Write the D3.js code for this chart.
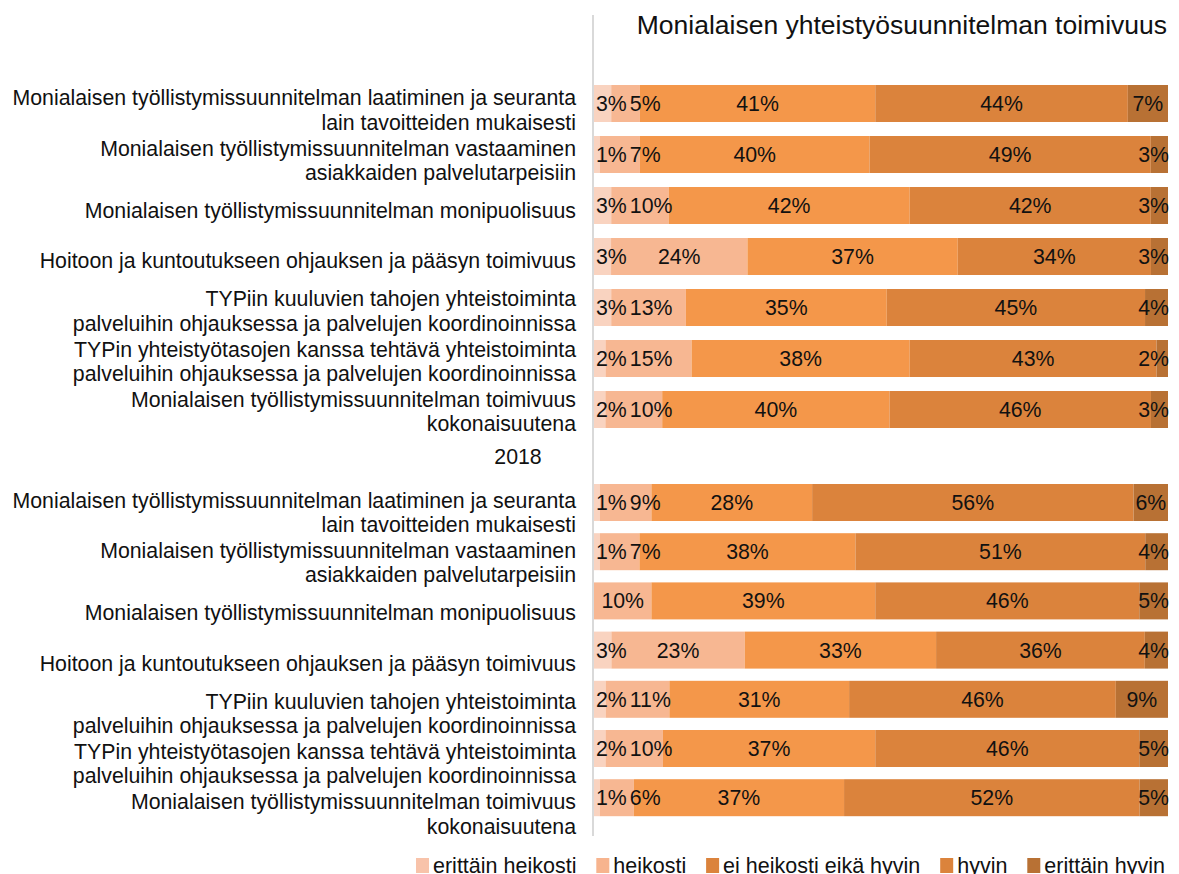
<!DOCTYPE html>
<html>
<head>
<meta charset="utf-8">
<script src="https://cdn.jsdelivr.net/npm/d3@7"></script>
<style>
  body { margin: 0; background: #fff; }
  text { font-family: "Liberation Sans", Arial, sans-serif; }
</style>
</head>
<body>
<svg id="chart"></svg>
<script>
// answer levels (legend order)
const levels = ["erittäin heikosti", "heikosti", "ei heikosti eikä hyvin", "hyvin", "erittäin hyvin"];

// category labels, already split into lines
const categories = [
  ["Monialaisen työllistymissuunnitelman laatiminen ja seuranta", "lain tavoitteiden mukaisesti"],
  ["Monialaisen työllistymissuunnitelman vastaaminen", "asiakkaiden palvelutarpeisiin"],
  ["Monialaisen työllistymissuunnitelman monipuolisuus"],
  ["Hoitoon ja kuntoutukseen ohjauksen ja pääsyn toimivuus"],
  ["TYPiin kuuluvien tahojen yhteistoiminta", "palveluihin ohjauksessa ja palvelujen koordinoinnissa"],
  ["TYPin yhteistyötasojen kanssa tehtävä yhteistoiminta", "palveluihin ohjauksessa ja palvelujen koordinoinnissa"],
  ["Monialaisen työllistymissuunnitelman toimivuus", "kokonaisuutena"]
];

// percentages per category, in level order
const valuesLatest = [
  [3, 5, 41, 44, 7],
  [1, 7, 40, 49, 3],
  [3, 10, 42, 42, 3],
  [3, 24, 37, 34, 3],
  [3, 13, 35, 45, 4],
  [2, 15, 38, 43, 2],
  [2, 10, 40, 46, 3]
];
const values2018 = [
  [1, 9, 28, 56, 6],
  [1, 7, 38, 51, 4],
  [0, 10, 39, 46, 5],
  [3, 23, 33, 36, 4],
  [2, 11, 31, 46, 9],
  [2, 10, 37, 46, 5],
  [1, 6, 37, 52, 5]
];
const groupLabel = "2018";
const title = "Monialaisen yhteistyösuunnitelman toimivuus";

const width = 1179, height = 874;
const fontSize = 21.3;
const barColors = ["#f9d3c0", "#f7b792", "#f4974a", "#db833c", "#b87134"];
const legendColors = ["#f8c3aa", "#f7b48e", "#db833c", "#db833c", "#b87134"];

const svg = d3.select("#chart")
  .attr("width", width)
  .attr("height", height);

const x = d3.scaleLinear().domain([0, 1]).range([594, 1168]);

// the two groups of bars have slightly different spacing
const yTop = d3.scaleBand().domain(d3.range(7)).range([71, 442]).padding(0.2745);
const yBottom = d3.scaleBand().domain(d3.range(7)).range([471.8, 828.4]).padding(0.248);
// category labels run on a single even scale (index 7 = group label)
const yLabel = d3.scalePoint().domain(d3.range(15)).range([110, 814]);

const toRows = vals => vals.map(v => Object.fromEntries(levels.map((l, i) => [l, v[i]])));

const stack = d3.stack().keys(levels).offset(d3.stackOffsetExpand);

function drawGroup(vals, y) {
  const series = stack(toRows(vals));
  const g = svg.append("g");
  g.selectAll("g")
    .data(series)
    .join("g")
      .attr("fill", (d, i) => barColors[i])
    .selectAll("rect")
    .data(D => D.map((d, i) => ({ d, i })))
    .join("rect")
      .attr("x", o => x(o.d[0]))
      .attr("width", o => x(o.d[1]) - x(o.d[0]))
      .attr("y", o => y(o.i))
      .attr("height", y.bandwidth());

  // value labels, centred in their segment but kept apart from each other
  vals.forEach((row, i) => {
    let prevRight = -Infinity;
    series.forEach((s, k) => {
      if (row[k] <= 0) return;
      const d = s[i];
      const t = g.append("text")
        .attr("y", y(i) + y.bandwidth() / 2)
        .attr("dy", "0.35em")
        .attr("text-anchor", "middle")
        .attr("font-size", fontSize)
        .attr("fill", "#111")
        .text(row[k] + "%");
      const w = t.node().getComputedTextLength();
      let left = (x(d[0]) + x(d[1])) / 2 - w / 2;
      left = Math.max(left, 596, prevRight + 3);
      if (left + w > 1169) left = Math.max(1169 - w, prevRight + 1);
      t.attr("x", left + w / 2);
      prevRight = left + w;
    });
  });
}

drawGroup(valuesLatest, yTop);
drawGroup(values2018, yBottom);

// category labels
const labelRows = [
  ...categories.map((c, i) => ({ lines: c, k: i })),
  ...categories.map((c, i) => ({ lines: c, k: 8 + i }))
];
svg.append("g")
  .attr("text-anchor", "end")
  .attr("font-size", fontSize)
  .attr("fill", "#111")
  .selectAll("text")
  .data(labelRows)
  .join("text")
    .attr("transform", d => `translate(576,${yLabel(d.k)})`)
    .selectAll("tspan")
    .data(d => d.lines.map((t, j) => ({ t, j, n: d.lines.length })))
    .join("tspan")
      .attr("x", 0)
      .attr("y", o => (o.j - (o.n - 1) / 2) * 24.5)
      .attr("dy", "0.35em")
      .text(o => o.t);

svg.append("text")
  .attr("x", 518)
  .attr("y", yLabel(7) - 5)
  .attr("dy", "0.35em")
  .attr("text-anchor", "middle")
  .attr("font-size", fontSize)
  .attr("fill", "#111")
  .text(groupLabel);

// category axis line
svg.append("line")
  .attr("x1", 593).attr("x2", 593)
  .attr("y1", 15).attr("y2", 836)
  .attr("stroke", "#d9d9d9")
  .attr("stroke-width", 2);

// title
svg.append("text")
  .attr("x", 1167)
  .attr("y", 34)
  .attr("text-anchor", "end")
  .attr("font-size", 26.5)
  .attr("fill", "#111")
  .text(title);

// legend, spread between x=416 and x=1165
const legend = svg.append("g").attr("font-size", 21.5).attr("fill", "#111");
const items = levels.map((l, i) => {
  const t = legend.append("text").attr("y", 873).text(l);
  const r = legend.append("rect")
    .attr("y", 858).attr("width", 13).attr("height", 15)
    .attr("fill", legendColors[i]);
  return { t, r, w: t.node().getComputedTextLength() };
});
const gap = (1165 - 416 - d3.sum(items, d => d.w) - items.length * 17) / (items.length - 1);
let lx = 416;
items.forEach(it => {
  it.r.attr("x", lx);
  it.t.attr("x", lx + 17);
  lx += 17 + it.w + gap;
});
</script>
</body>
</html>
